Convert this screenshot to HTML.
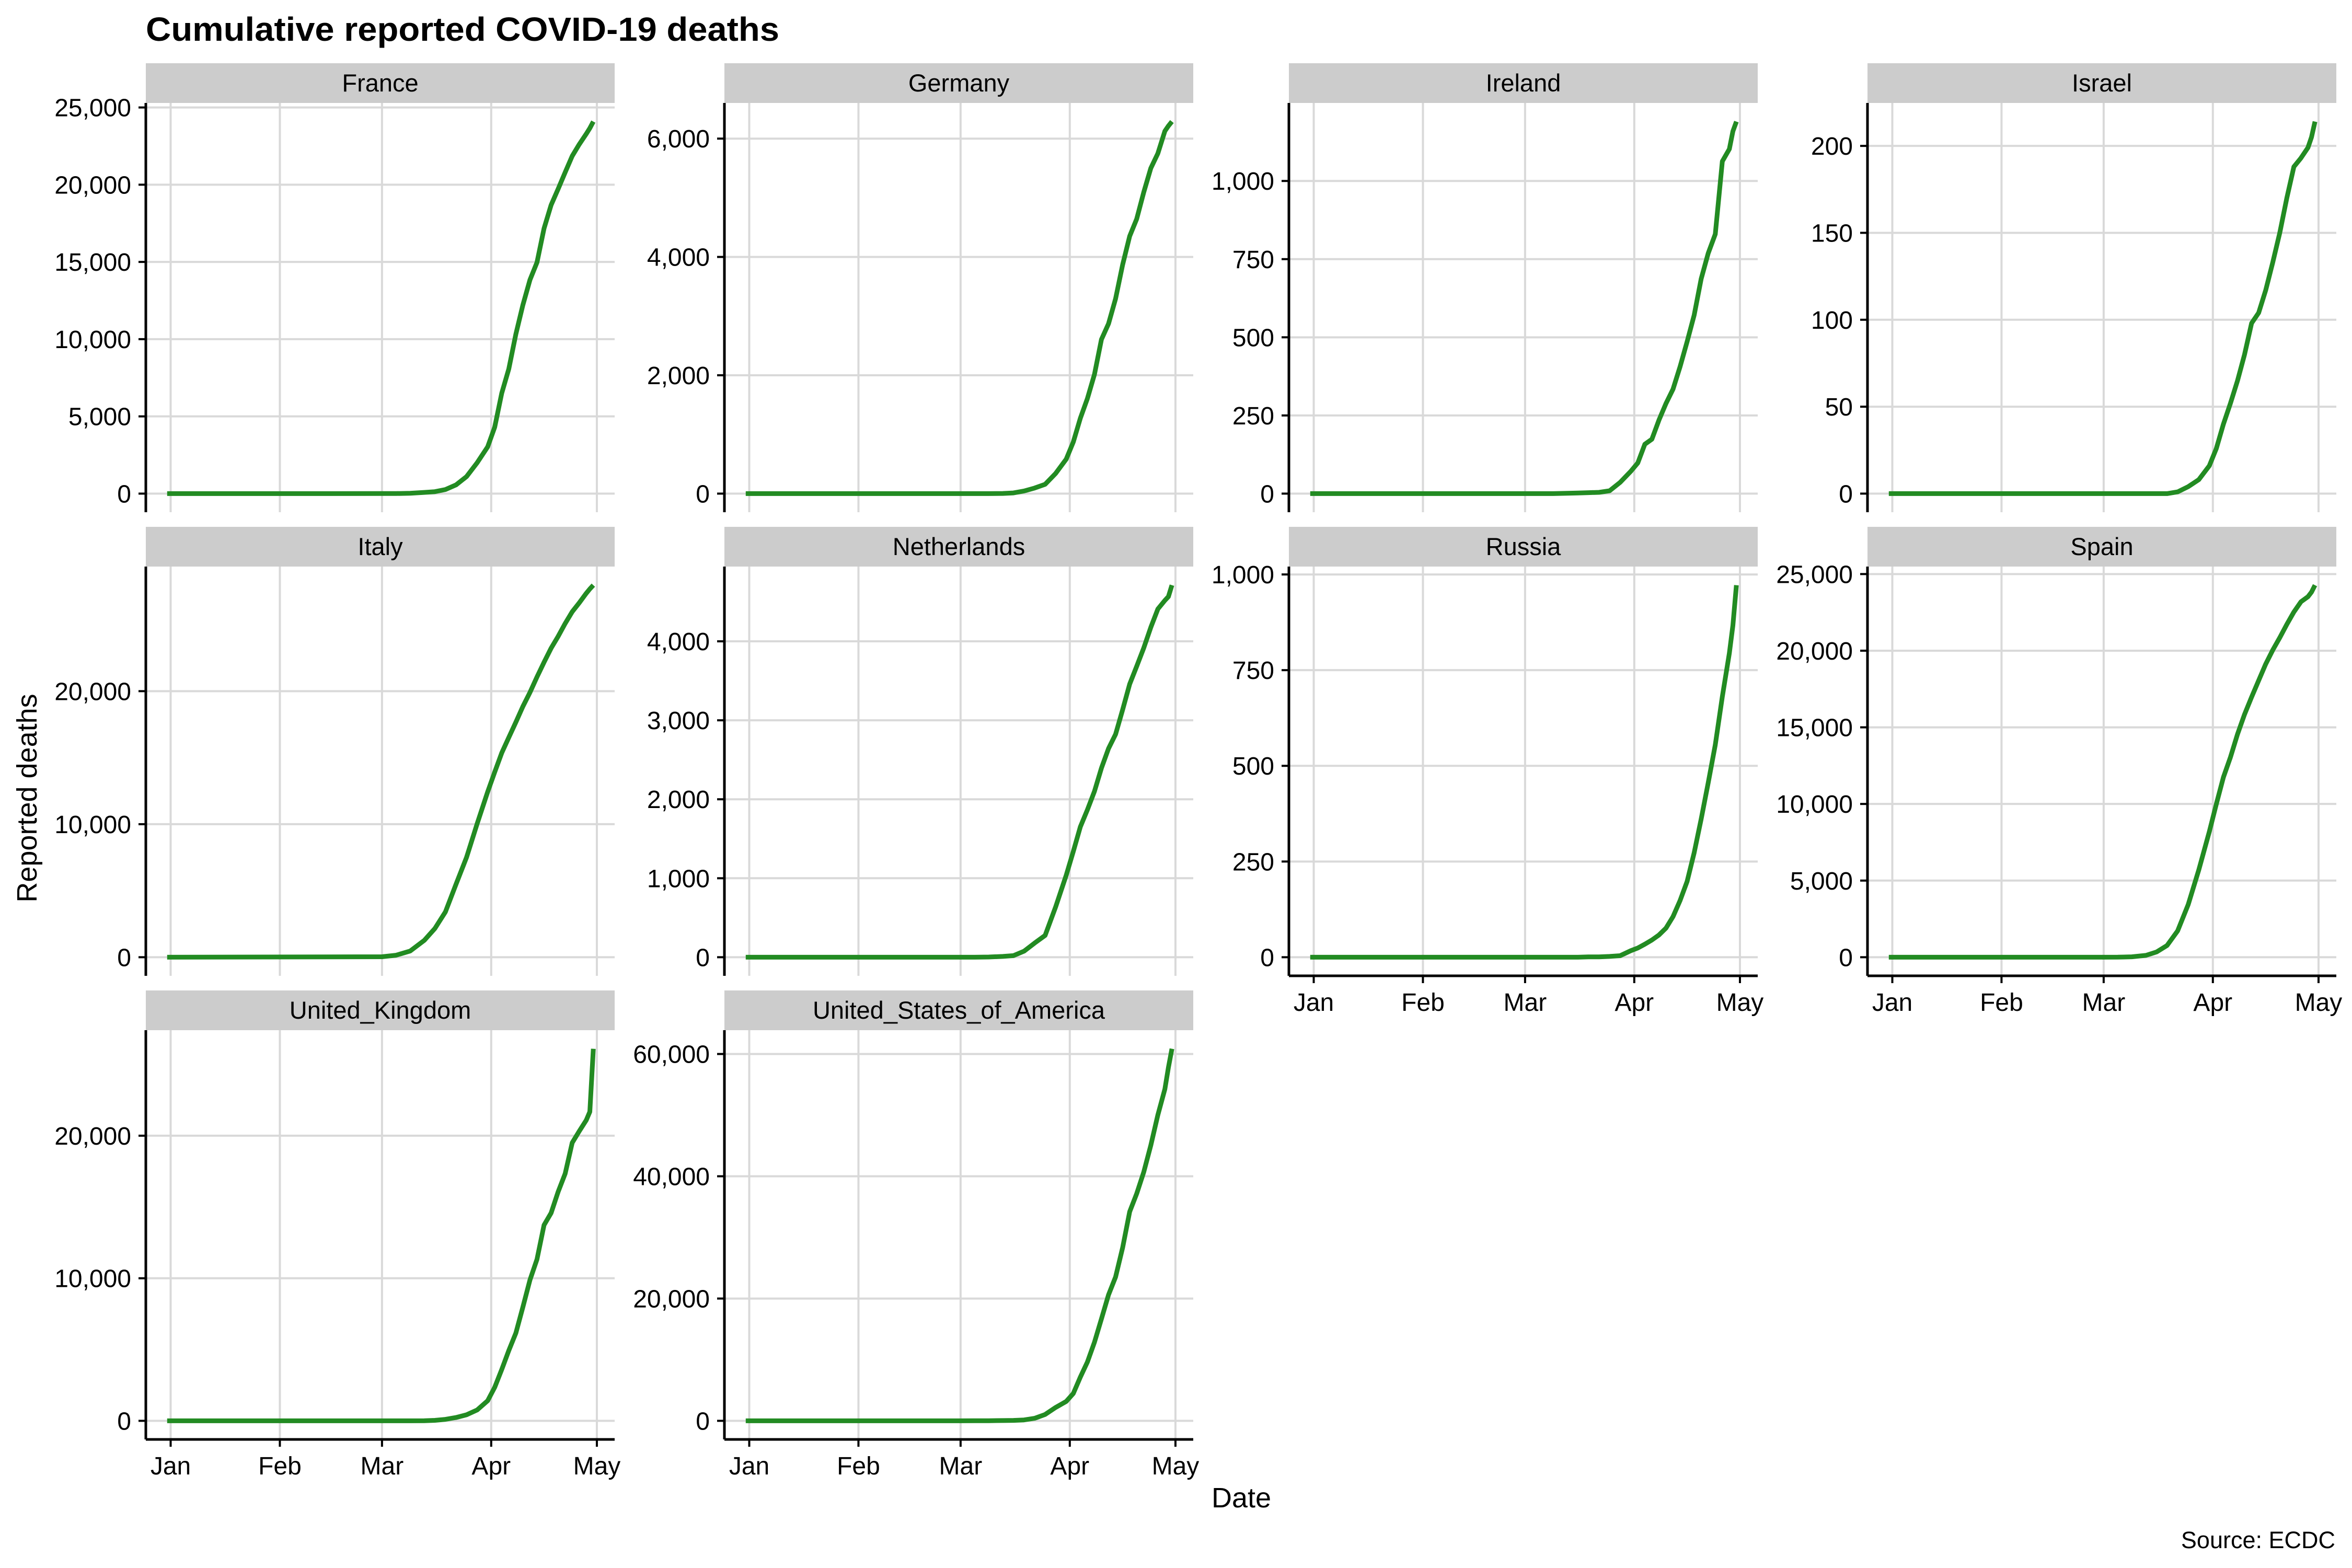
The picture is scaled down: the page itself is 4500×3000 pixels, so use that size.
<!DOCTYPE html>
<html><head><meta charset="utf-8"><style>
html,body{margin:0;padding:0;background:#fff;}
svg{display:block;font-family:"Liberation Sans",Arial,sans-serif;}
</style></head><body>
<svg id="chart" width="4500" height="3000" viewBox="0 0 4500 3000" xmlns="http://www.w3.org/2000/svg">
<rect x="0" y="0" width="4500" height="3000" fill="#fff"/>
<text x="279" y="78" font-size="64" font-weight="bold" textLength="1212" lengthAdjust="spacingAndGlyphs">Cumulative reported COVID-19 deaths</text>
<text x="0" y="0" font-size="54" text-anchor="middle" transform="translate(70,1527) rotate(-90)">Reported deaths</text>
<text x="2375" y="2884" font-size="54" text-anchor="middle">Date</text>
<text x="4468" y="2962" font-size="45" text-anchor="end">Source: ECDC</text>
<g id="panels"></g>
</svg>
<script>
// Days since Jan 1 2020 (Jan1=0, Feb1=31, Mar1=60, Apr1=91, May1=121)
const days = [-1,60,64,68,72,75,78,81,84,87,90,92,94,96,98,100,102,104,106,108,110,112,114,116,118,119,120];
const countries = ["France","Germany","Ireland","Israel","Italy","Netherlands","Russia","Spain","United_Kingdom","United_States_of_America"];
const franceDeaths = [0,2,4,25,79,127,264,562,1100,1995,3024,4300,6507,8078,10328,12210,13832,14967,17167,18681,19718,20796,21856,22614,23293,23660,24087];
const germanyDeaths = [0,0,0,0,3,12,44,94,157,342,583,872,1275,1607,2016,2607,2871,3294,3868,4352,4642,5094,5500,5750,6126,6215,6288];
const irelandDeaths = [0,0,0,0,1,2,3,4,9,36,71,98,158,174,235,288,334,406,486,571,687,769,830,1063,1102,1159,1190];
const israelDeaths = [0,0,0,0,0,0,0,1,4,8,16,26,40,52,65,80,98,104,117,133,150,170,188,193,199,205,214];
const italyDeaths = [0,34,148,463,1266,2158,3405,5476,7503,10023,12428,13915,15362,16523,17669,18849,19899,21067,22170,23227,24114,25085,25969,26644,27359,27682,27967];
const netherlandsDeaths = [0,0,0,3,10,20,76,179,276,639,1039,1339,1651,1867,2101,2396,2643,2823,3134,3459,3684,3916,4177,4409,4518,4566,4711];
const russiaDeaths = [0,0,0,0,0,0,1,1,2,4,17,24,34,45,58,76,106,148,198,273,361,456,555,681,794,867,972];
const spainDeaths = [0,0,3,28,120,342,767,1720,3434,5690,8189,10003,11744,13055,14555,15843,16972,18056,19130,20043,20852,21717,22524,23190,23521,23822,24275];
const ukDeaths = [0,0,0,0,8,35,104,233,422,759,1408,2352,3605,4934,6159,7978,9875,11329,13729,14576,16060,17337,19506,20319,21092,21678,26097];
const usaDeaths = [0,1,11,22,41,68,150,414,1031,2191,3170,4476,7159,9619,12857,16686,20608,23529,28326,34203,37154,40683,45063,50031,54256,57800,60853];
const monthLabels = ["Jan","Feb","Mar","Apr","May"];
const monthDays = [0,31,60,91,121];
const franceTicks = [0,5000,10000,15000,20000,25000];
const germanyTicks = [0,2000,4000,6000];
const irelandTicks = [0,250,500,750,1000];
const israelTicks = [0,50,100,150,200];
const italyTicks = [0,10000,20000];
const netherlandsTicks = [0,1000,2000,3000,4000];
const russiaTicks = [0,250,500,750,1000];
const spainTicks = [0,5000,10000,15000,20000,25000];
const ukTicks = [0,10000,20000];
const usaTicks = [0,20000,40000,60000];

const series = [franceDeaths,germanyDeaths,irelandDeaths,israelDeaths,italyDeaths,netherlandsDeaths,russiaDeaths,spainDeaths,ukDeaths,usaDeaths];
const ticks = [franceTicks,germanyTicks,irelandTicks,israelTicks,italyTicks,netherlandsTicks,russiaTicks,spainTicks,ukTicks,usaTicks];

const NS = "http://www.w3.org/2000/svg";
const colLeft = [279,1386,2466,3573];
const PW = 897, STRIP = 76, PH = 783;
const rowTop = [121,1008,1895];
const root = document.getElementById("panels");
function mk(tag, attrs, parent){
  const e = document.createElementNS(NS, tag);
  for (const k in attrs) e.setAttribute(k, attrs[k]);
  parent.appendChild(e);
  return e;
}
const dMin = days[0], dMax = days[days.length-1];
countries.forEach((name, i) => {
  const col = i % 4, row = Math.floor(i / 4);
  const L = colLeft[col], T = rowTop[row] + STRIP, B = T + PH;
  const vals = series[i];
  const M = Math.max(...vals);
  const xs = d => L + PW*0.05/1.1 + (d - dMin) / (dMax - dMin) * PW/1.1;
  const ys = v => B - PH*0.05/1.1 - v / M * PH/1.1;
  const g = mk("g", {}, root);
  
  
  const strip = mk("rect", {x:L, y:rowTop[row], width:PW, height:STRIP, fill:"#CCCCCC"}, g);
  
  
  const st = mk("text", {x:L+PW/2, y:rowTop[row]+54, "font-size":47, "text-anchor":"middle"}, g);
  st.textContent = name;
  
  
  monthDays.forEach((md) => {
    const gl = mk("line", {x1:xs(md), x2:xs(md), y1:T, y2:B, stroke:"#D9D9D9", "stroke-width":4}, g);
    
    
  });
  ticks[i].forEach((tv) => {
    const y = ys(tv);
    const gl = mk("line", {x1:L, x2:L+PW, y1:y, y2:y, stroke:"#D9D9D9", "stroke-width":4}, g);
    
    
    const tk = mk("line", {x1:L-14, x2:L, y1:y, y2:y, stroke:"#000", "stroke-width":4}, g);
    
    
    const tl = mk("text", {x:L-28, y:y+17, "font-size":48, "text-anchor":"end"}, g);
    tl.textContent = tv.toLocaleString('en-US');
    
    
  });
  const pts = days.map((d, k) => xs(d).toFixed(1) + "," + ys(vals[k]).toFixed(1)).join(" ");
  const pl = mk("polyline", {points:pts, fill:"none", stroke:"#228B22", "stroke-width":9, "stroke-linejoin":"round"}, g);
  
  
  const ya = mk("line", {x1:L, x2:L, y1:T, y2:B, stroke:"#000", "stroke-width":5}, g);
  
  
  const bottom = (row === 2) || (row === 1 && col >= 2);
  if (bottom) {
    const xa = mk("line", {x1:L, x2:L+PW, y1:B, y2:B, stroke:"#000", "stroke-width":5}, g);
    
    
    monthDays.forEach((md, k) => {
      const tk = mk("line", {x1:xs(md), x2:xs(md), y1:B, y2:B+14, stroke:"#000", "stroke-width":4}, g);
      
      
      const tl = mk("text", {x:xs(md), y:B+67, "font-size":48, "text-anchor":"middle"}, g);
      tl.textContent = monthLabels[k];
      
      
    });
  }
});
</script>
</body></html>
